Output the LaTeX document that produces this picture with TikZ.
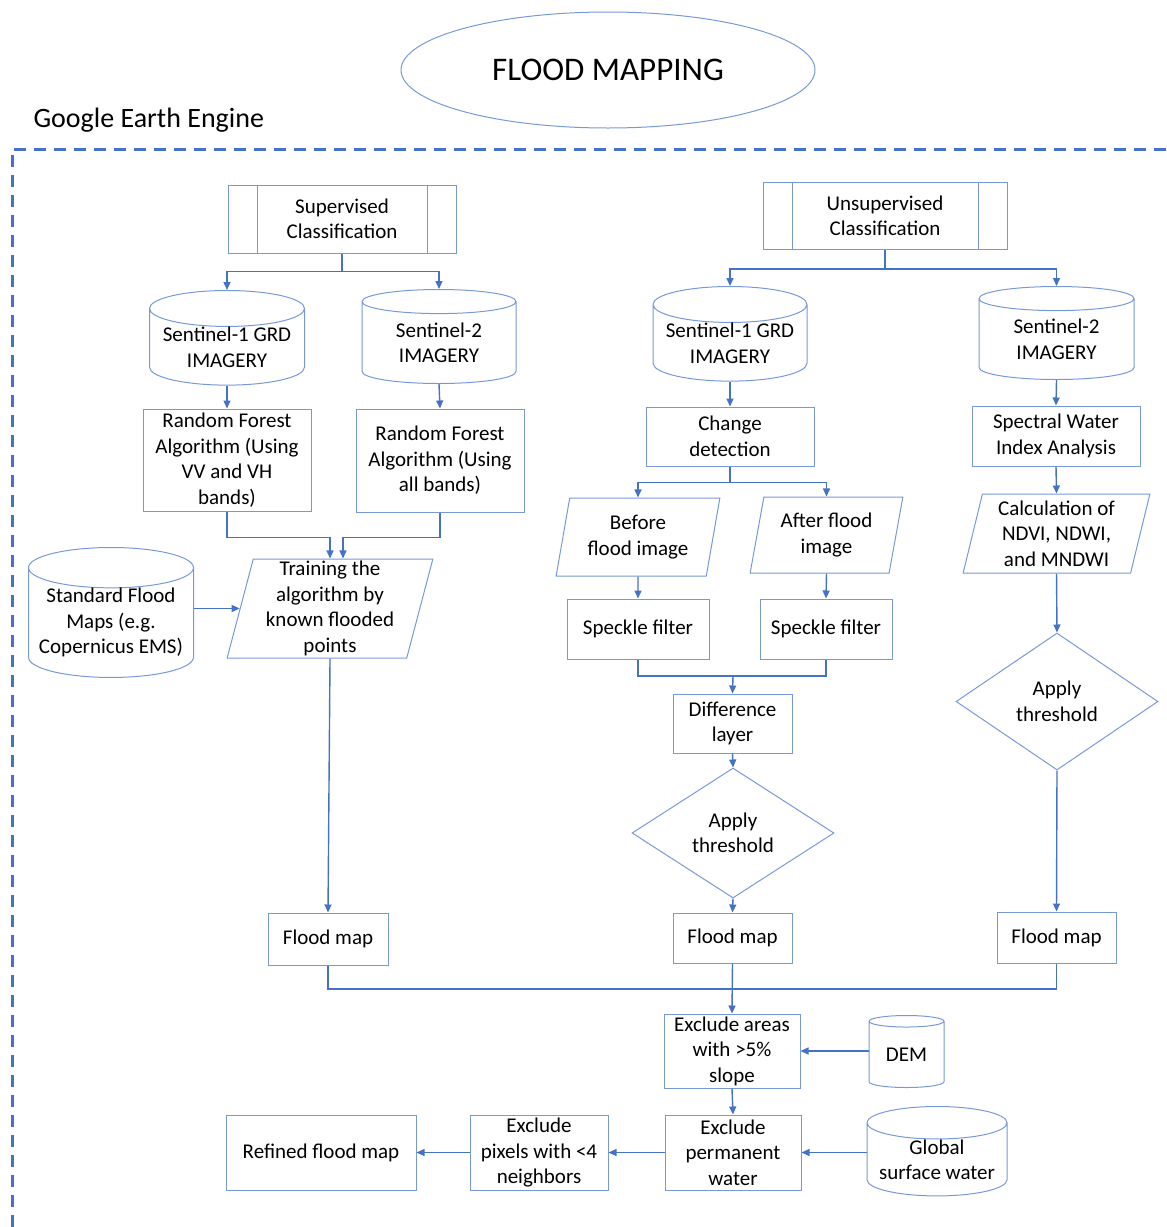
\documentclass[tikz,border=0pt]{standalone}
\usepackage{fontspec}
\setmainfont{Carlito}
\usetikzlibrary{arrows.meta,shapes.geometric,calc}
\definecolor{ms_blue}{RGB}{68, 114, 196}
\definecolor{ms_edge}{RGB}{120, 153, 216}
\tikzstyle{txt}=[font=\fontsize{21}{25.5}\selectfont,align=center,text=black]
\tikzstyle{bx}=[rectangle,draw=ms_edge,line width=1pt,inner sep=0pt,txt]
\tikzstyle{pp}=[bx,path picture={
    \draw [ms_edge,line width=1pt] ([xshift=29pt]path picture bounding box.north west)
      -- ([xshift=29pt]path picture bounding box.south west);
    \draw [ms_edge,line width=1pt] ([xshift=-29pt]path picture bounding box.north east)
      -- ([xshift=-29pt]path picture bounding box.south east);}]
\tikzstyle{cyl}=[cylinder,shape border rotate=90,aspect=0.28,draw=ms_edge,
  line width=1pt,inner sep=0pt,anchor=north,txt]
\tikzstyle{io}=[trapezium,trapezium left angle=77,trapezium right angle=103,
  trapezium stretches=true,draw=ms_edge,line width=1pt,inner sep=0pt,txt]
\tikzstyle{dm}=[diamond,draw=ms_edge,line width=1pt,inner sep=0pt,txt]
\tikzstyle{ln}=[draw=ms_blue,line width=1.4pt]
\tikzstyle{ar}=[ln,-{Triangle[length=8pt,width=7pt]}]

\begin{document}
\begin{tikzpicture}[x=1pt,y=-1pt]
            \useasboundingbox (0,0) rectangle (1167,1227);
            \node [ellipse,draw=ms_edge,line width=1pt,minimum width=414pt,minimum height=116pt,
              font=\fontsize{33}{36}\selectfont] (0) at (608, 70) {FLOOD MAPPING};
            \node [anchor=west,font=\fontsize{28}{30}\selectfont] (1) at (30, 120) {Google Earth Engine};
            \draw [ms_blue,line width=3pt,dash pattern=on 12pt off 8pt] (12, 1227) -- (12, 149) -- (1167, 149);
            % supervised side
            \node [style=pp,minimum width=228pt,minimum height=68pt] (2) at (342, 219) {Supervised\\Classification};
            \node [style=cyl,minimum width=155pt,minimum height=93pt] (4) at (227, 290) {Sentinel-1 GRD\\IMAGERY};
            \node [style=cyl,minimum width=154pt,minimum height=94pt] (5) at (439, 289) {Sentinel-2\\IMAGERY};
            \node [style=bx,minimum width=168pt,minimum height=102pt] (6) at (227, 460) {Random Forest\\Algorithm (Using\\VV and VH\\bands)};
            \node [style=bx,minimum width=168pt,minimum height=103pt] (7) at (440, 460.5) {Random Forest\\Algorithm (Using\\all bands)};
            \node [style=cyl,minimum width=165pt,minimum height=118pt] (8) at (111, 547) {Standard Flood\\Maps (e.g.\\Copernicus EMS)};
            \node [style=io,minimum width=206pt,minimum height=99pt] (9) at (330, 608.5) {Training the\\algorithm by\\known flooded\\points};
            \node [style=bx,minimum width=120pt,minimum height=52pt] (10) at (328, 939) {Flood map};
            % unsupervised side
            \node [style=pp,minimum width=244pt,minimum height=67pt] (3) at (885, 216) {Unsupervised\\Classification};
            \node [style=cyl,minimum width=154pt,minimum height=93pt] (11) at (730, 286) {Sentinel-1 GRD\\IMAGERY};
            \node [style=cyl,minimum width=155pt,minimum height=93pt] (12) at (1056.5, 286) {Sentinel-2\\IMAGERY};
            \node [style=bx,minimum width=168pt,minimum height=59pt] (13) at (730, 436.5) {Change\\detection};
            \node [style=io,minimum width=164pt,minimum height=78pt] (14) at (638, 537) {Before\\flood image};
            \node [style=io,minimum width=153pt,minimum height=76pt] (15) at (826.5, 535) {After flood\\image};
            \node [style=bx,minimum width=142pt,minimum height=60pt] (16) at (638, 629) {Speckle filter};
            \node [style=bx,minimum width=132pt,minimum height=60pt] (17) at (826, 629) {Speckle filter};
            \node [style=bx,minimum width=119pt,minimum height=59pt] (18) at (732.5, 723.5) {Difference\\layer};
            \node [style=dm,minimum width=202pt,minimum height=130pt] (19) at (733, 833) {Apply\\threshold};
            \node [style=bx,minimum width=119pt,minimum height=50pt] (20) at (732.5, 938) {Flood map};
            \node [style=bx,minimum width=168pt,minimum height=60pt] (21) at (1056, 436) {Spectral Water\\Index Analysis};
            \node [style=io,minimum width=187pt,minimum height=79pt] (22) at (1056.5, 533.5) {Calculation of\\NDVI, NDWI,\\and MNDWI};
            \node [style=dm,minimum width=202pt,minimum height=137pt] (23) at (1057, 701.5) {Apply\\threshold};
            \node [style=bx,minimum width=119pt,minimum height=51pt] (24) at (1056.5, 937.5) {Flood map};
            % refinement
            \node [style=bx,minimum width=136pt,minimum height=74pt] (25) at (732, 1051) {Exclude areas\\with >5\%\\slope};
            \node [style=cyl,minimum width=75pt,minimum height=72pt] (26) at (906.5, 1015) {DEM};
            \node [style=bx,minimum width=136pt,minimum height=75pt] (27) at (733, 1152.5) {Exclude\\permanent\\water};
            \node [style=cyl,minimum width=140pt,minimum height=88pt] (28) at (937, 1106) {Global\\surface water};
            \node [style=bx,minimum width=138pt,minimum height=75pt] (29) at (539, 1152.5) {Exclude\\pixels with <4\\neighbors};
            \node [style=bx,minimum width=190pt,minimum height=75pt] (30) at (321, 1152.5) {Refined flood map};
            \coordinate (31) at (733, 676);
            \coordinate (32) at (733, 989);
            \draw [style=ar] (2.south) -- ++(0, 18) -| (4.north);
            \draw [style=ar] (2.south) -- ++(0, 18) -| (5.north);
            \draw [style=ar] (4.south) -- (6.north);
            \draw [style=ar] (5.south) -- (7.north);
            \draw [style=ar] (6.south) -- ++(0, 26) -| (9.north);
            \draw [style=ar] (7.south) -- ++(0, 25) -| ([xshift=13pt]9.north);
            \draw [style=ar] (8.east |- 9.west) -- (9.west);
            \draw [style=ar] (9.south) -- (10.north);
            \draw [style=ar] (3.south) -- ++(0, 19) -| (11.north);
            \draw [style=ar] (3.south) -- ++(0, 19) -| (12.north);
            \draw [style=ar] (11.south) -- (13.north);
            \draw [style=ar] (13.south) -- ++(0, 16) -| (14.north);
            \draw [style=ar] (13.south) -- ++(0, 16) -| (15.north);
            \draw [style=ar] (14.south) -- (16.north);
            \draw [style=ar] (15.south) -- (17.north);
            \draw [style=ln] (16.south) |- (31) -| (17.south);
            \draw [style=ar] (31) -- (18.north);
            \draw [style=ar] (18.south) -- (19.north);
            \draw [style=ar] (19.south) -- (20.north);
            \draw [style=ar] (12.south) -- (21.north);
            \draw [style=ar] (21.south) -- (22.north);
            \draw [style=ar] (22.south) -- (23.north);
            \draw [style=ar] (23.south) -- (24.north);
            \draw [style=ln] (10.south) |- (32) -| (24.south);
            \draw [style=ar] (20.south) -- (25.north);
            \draw [style=ar] (26.west |- 25.east) -- (25.east);
            \draw [style=ar] (25.south) -- (27.north);
            \draw [style=ar] (28.west |- 27.east) -- (27.east);
            \draw [style=ar] (27.west) -- (29.east);
            \draw [style=ar] (29.west) -- (30.east);
    \end{tikzpicture}
\end{document}
